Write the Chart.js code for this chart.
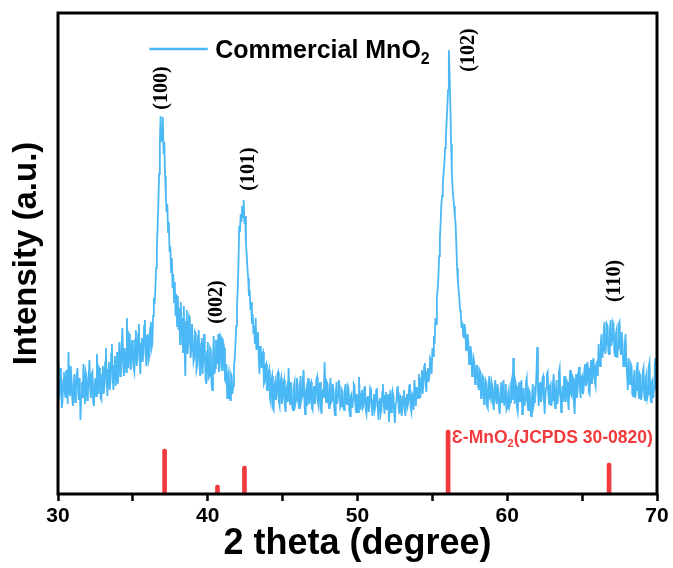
<!DOCTYPE html>
<html>
<head>
<meta charset="utf-8">
<script src="https://cdn.jsdelivr.net/npm/chart.js@4.4.0/dist/chart.umd.min.js"></script>
<style>
  html, body { margin: 0; padding: 0; background: #ffffff; }
  #wrap { width: 673px; height: 568px; position: relative; }
</style>
</head>
<body>
<div id="wrap"><canvas id="xrd" width="673" height="568"></canvas></div>
<script>
// XRD scan of commercial MnO2: 2θ from 30° to 70° in 0.05° steps (one row per degree)
const thetaStart = 30.0;
const thetaStep = 0.05;
const intensity = [
  130, 94, 100, 126, 118, 86, 92, 114, 122, 102, 96, 124, 108, 90, 142, 110, 98, 128, 115, 96,
  88, 110, 120, 92, 104, 118, 126, 100, 94, 116, 74, 98, 112, 96, 130, 106, 90, 122, 118, 94,
  102, 118, 134, 104, 96, 120, 122, 92, 88, 110, 116, 98, 140, 112, 100, 126, 124, 96, 94, 120,
  128, 100, 108, 132, 146, 112, 98, 124, 132, 104, 112, 140, 150, 116, 104, 128, 138, 108, 120, 142,
  110, 136, 152, 118, 124, 148, 166, 130, 118, 146, 140, 122, 176, 138, 126, 160, 158, 124, 132, 154,
  148, 126, 122, 154, 164, 128, 134, 160, 170, 136, 120, 150, 156, 132, 140, 168, 174, 142, 128, 158,
  160, 134, 138, 166, 172, 146, 150, 178, 196, 190, 204, 226, 244, 266, 290, 320, 350, 378, 352, 366,
  377, 340, 352, 318, 300, 282, 290, 262, 272, 242, 248, 222, 236, 206, 220, 192, 212, 178, 200, 168,
  198, 164, 186, 150, 192, 160, 176, 142, 188, 150, 118, 172, 184, 140, 150, 178, 176, 136, 144, 170,
  170, 132, 136, 162, 160, 124, 128, 158, 164, 130, 118, 150, 156, 120, 134, 160, 148, 116, 110, 142,
  152, 116, 118, 146, 144, 110, 104, 138, 158, 120, 126, 154, 150, 130, 160, 122, 128, 158, 156, 124,
  124, 150, 146, 114, 112, 130, 96, 118, 122, 98, 94, 120, 118, 100, 108, 128, 134, 150, 168, 186,
  204, 230, 268, 262, 280, 272, 288, 276, 294, 270, 278, 250, 240, 226, 216, 198, 204, 184, 192, 170,
  180, 160, 168, 150, 176, 144, 150, 162, 138, 120, 148, 132, 126, 140, 142, 110, 112, 128, 130, 104,
  104, 120, 124, 96, 92, 114, 118, 86, 84, 108, 112, 94, 98, 120, 122, 92, 88, 112, 116, 90,
  96, 110, 114, 88, 82, 104, 108, 92, 126, 100, 90, 112, 104, 86, 84, 108, 112, 90, 94, 116,
  110, 92, 86, 108, 118, 94, 98, 114, 124, 96, 80, 102, 106, 88, 116, 100, 90, 110, 112, 86,
  84, 100, 108, 90, 96, 114, 117, 92, 88, 106, 112, 86, 80, 102, 104, 96, 132, 108, 92, 112,
  110, 94, 86, 106, 116, 92, 94, 110, 104, 84, 79, 100, 112, 90, 98, 114, 108, 86, 88, 104,
  102, 88, 84, 104, 110, 92, 90, 108, 106, 84, 78, 98, 100, 86, 94, 110, 108, 90, 82, 100,
  96, 82, 117, 98, 84, 100, 104, 86, 88, 106, 108, 84, 80, 96, 98, 82, 90, 106, 104, 86,
  78, 94, 100, 84, 88, 104, 106, 88, 74, 92, 96, 80, 84, 102, 110, 92, 80, 98, 102, 84,
  90, 100, 72, 88, 104, 82, 84, 102, 98, 80, 71, 90, 92, 106, 108, 86, 80, 98, 96, 78,
  86, 98, 104, 84, 78, 96, 100, 88, 92, 108, 110, 86, 82, 100, 98, 84, 114, 102, 88, 106,
  106, 96, 120, 108, 96, 116, 124, 100, 110, 128, 131, 110, 102, 122, 126, 112, 118, 136, 134, 120,
  146, 138, 158, 150, 176, 170, 196, 204, 216, 238, 256, 270, 290, 298, 310, 322, 330, 346, 356, 372,
  388, 404, 444, 420, 388, 350, 322, 306, 296, 288, 278, 270, 250, 226, 214, 204, 196, 184, 180, 166,
  172, 160, 156, 170, 164, 144, 148, 160, 152, 130, 134, 148, 140, 118, 122, 136, 132, 110, 114, 128,
  128, 108, 104, 124, 122, 96, 98, 118, 116, 90, 92, 114, 112, 88, 86, 108, 118, 96, 94, 112,
  108, 90, 84, 106, 114, 94, 90, 110, 104, 86, 80, 100, 112, 92, 96, 114, 88, 102, 110, 84,
  86, 100, 104, 88, 92, 110, 114, 94, 136, 104, 90, 112, 108, 86, 82, 100, 112, 92, 96, 114,
  80, 98, 106, 88, 94, 112, 116, 90, 84, 104, 102, 86, 78, 96, 110, 88, 92, 108, 104, 120,
  147, 104, 88, 106, 112, 92, 96, 116, 118, 94, 80, 100, 106, 120, 122, 98, 90, 108, 110, 88,
  94, 110, 120, 96, 86, 104, 114, 90, 100, 122, 126, 100, 82, 98, 108, 92, 118, 104, 92, 114,
  112, 94, 84, 108, 124, 100, 98, 118, 116, 92, 80, 106, 120, 96, 104, 122, 127, 106, 96, 116,
  118, 100, 104, 124, 130, 108, 112, 132, 126, 102, 100, 122, 134, 110, 116, 136, 128, 112, 108, 130,
  132, 118, 150, 134, 128, 152, 160, 136, 144, 166, 172, 140, 150, 170, 168, 142, 140, 164, 174, 148,
  154, 172, 170, 142, 138, 160, 164, 136, 146, 170, 172, 144, 140, 162, 150, 128, 128, 150, 160, 132,
  120, 104, 136, 114, 110, 130, 128, 100, 98, 118, 124, 96, 104, 126, 132, 106, 96, 120, 118, 94,
  104, 122, 126, 98, 94, 116, 120, 96, 100, 128, 132, 102, 92, 112, 114, 96, 106, 130, 136, 110,
  114
];

// ε-MnO2 reference pattern (JCPDS 30-0820)
const refTheta = [37.12, 40.65, 42.45, 56.05, 66.8];
const refIntensity = [45, 9, 28, 64, 31];

// Miller indices written beside the peaks
const peakLabels = ['(100)', '(002)', '(101)', '(102)', '(110)'];
const peakLabelTheta = [36.95, 40.6, 42.75, 57.45, 67.2];
const peakLabelLevel = [406, 192, 325, 444, 213];

const xMin = 30, xMax = 70, xStep = 5;
const yMax = 481;

const scanPoints = intensity.map((v, i) => ({ x: +(thetaStart + i * thetaStep).toFixed(2), y: v }));
const refPoints = refTheta.map((t, i) => ({ x: t, y: refIntensity[i] }));

const BLUE = '#4bb8f6';
const RED = '#f03a3c';
const SANS = '"Liberation Sans", Arial, sans-serif';

// text with subscripted runs
function drawRich(ctx, parts, x, y, size, family, color) {
  ctx.save();
  ctx.fillStyle = color;
  ctx.textBaseline = 'alphabetic';
  ctx.textAlign = 'left';
  let cx = x;
  for (const p of parts) {
    const s = p.sub ? Math.round(size * 0.62) : size;
    ctx.font = 'bold ' + s + 'px ' + family;
    ctx.fillText(p.t, cx, p.sub ? y + size * 0.22 : y);
    cx += ctx.measureText(p.t).width;
  }
  ctx.restore();
}

const decorations = {
  id: 'decorations',
  afterDatasetsDraw(chart) {
    const { ctx, chartArea: a, scales: { x, y } } = chart;
    ctx.save();
    // frame
    ctx.strokeStyle = '#000';
    ctx.lineWidth = 3;
    ctx.strokeRect(a.left, a.top, a.right - a.left, a.bottom - a.top);

    // peak indices, rotated
    ctx.fillStyle = '#000';
    ctx.font = 'bold 20px "Liberation Serif", "Times New Roman", serif';
    ctx.textAlign = 'center';
    ctx.textBaseline = 'middle';
    peakLabels.forEach((lab, i) => {
      ctx.save();
      ctx.translate(x.getPixelForValue(peakLabelTheta[i]), y.getPixelForValue(peakLabelLevel[i]));
      ctx.rotate(-Math.PI / 2);
      ctx.fillText(lab, 0, 0);
      ctx.restore();
    });

    // legend
    const ly = y.getPixelForValue(445);
    ctx.strokeStyle = BLUE;
    ctx.lineWidth = 2.5;
    ctx.beginPath();
    ctx.moveTo(x.getPixelForValue(36.1), ly);
    ctx.lineTo(x.getPixelForValue(40.0), ly);
    ctx.stroke();
    drawRich(ctx, [{ t: 'Commercial MnO' }, { t: '2', sub: true }],
      x.getPixelForValue(40.5), ly + 9, 25, SANS, '#000');

    // reference pattern caption
    drawRich(ctx, [{ t: 'Ɛ-MnO' }, { t: '2', sub: true }, { t: '(JCPDS 30-0820)' }],
      x.getPixelForValue(56.3), y.getPixelForValue(51), 17.5, SANS, RED);
    ctx.restore();
  }
};

new Chart(document.getElementById('xrd'), {
  data: {
    datasets: [
      {
        type: 'line',
        label: 'Commercial MnO2',
        data: scanPoints,
        borderColor: BLUE,
        borderWidth: 1.8,
        pointRadius: 0,
        tension: 0,
        fill: false,
        order: 1
      },
      {
        type: 'bar',
        label: 'JCPDS 30-0820',
        data: refPoints,
        backgroundColor: RED,
        barThickness: 4,
        borderRadius: { topLeft: 2, topRight: 2 },
        borderSkipped: 'bottom',
        order: 2
      }
    ]
  },
  options: {
    responsive: false,
    devicePixelRatio: 1,
    animation: false,
    layout: { padding: { left: 0, top: 13, right: 16, bottom: 0 } },
    plugins: { legend: { display: false }, tooltip: { enabled: false } },
    scales: {
      x: {
        type: 'linear',
        min: xMin,
        max: xMax,
        offset: false,
        afterFit(s) { s.height = 74; },
        afterBuildTicks(s) {
          const t = [];
          for (let v = xMin; v <= xMax; v += xStep) t.push({ value: v });
          s.ticks = t;
        },
        ticks: {
          autoSkip: false,
          maxRotation: 0,
          padding: 3,
          color: '#000',
          font: { family: SANS, size: 21, weight: 'bold' },
          callback: v => (v % 10 === 0 ? String(v) : '')
        },
        grid: {
          display: true,
          offset: false,
          drawOnChartArea: false,
          drawTicks: true,
          tickLength: 7,
          tickWidth: 2.5,
          tickColor: '#000'
        },
        border: { display: false },
        title: {
          display: true,
          text: '2 theta (degree)',
          color: '#000',
          font: { family: SANS, size: 36, weight: 'bold' },
          padding: { top: 0, bottom: 2 }
        }
      },
      y: {
        type: 'linear',
        min: 0,
        max: yMax,
        afterFit(s) { s.width = 58; },
        ticks: { display: false },
        grid: { display: false },
        border: { display: false },
        title: {
          display: true,
          text: 'Intensity (a.u.)',
          color: '#000',
          font: { family: SANS, size: 33, weight: 'bold' },
          padding: { top: 7, bottom: 0 }
        }
      }
    }
  },
  plugins: [decorations]
});
</script>
</body>
</html>
